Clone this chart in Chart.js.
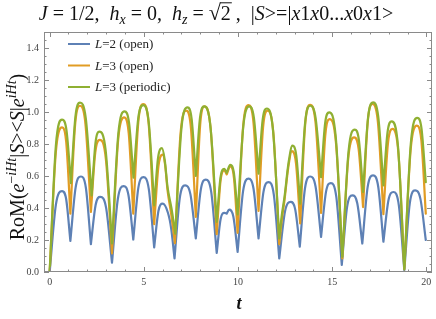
<!DOCTYPE html>
<html>
<head>
<meta charset="utf-8">
<script src="https://cdn.jsdelivr.net/npm/chart.js@4.4.0/dist/chart.umd.min.js"></script>
<style>
  html, body { margin: 0; padding: 0; background: #fff; }
  #wrap { width: 436px; height: 319px; }
</style>
</head>
<body>
<div id="wrap"><canvas id="chart" width="436" height="319"></canvas></div>
<script>
// Values (t, value) -- extrema plus one shoulder per arc
const blueT = [0, 0.33, 0.66, 0.88, 1.10, 1.38, 1.66, 1.925, 2.19, 2.44, 2.69, 3.0, 3.31, 3.62, 3.93, 4.185, 4.44, 4.71, 4.98, 5.265, 5.55, 5.775, 6.0, 6.28, 6.455, 6.63, 6.91, 7.19, 7.475, 7.76, 8.025, 8.29, 8.58, 8.87, 9.075, 9.28, 9.40, 9.53, 9.755, 9.98, 10.27, 10.56, 10.825, 11.09, 11.355, 11.62, 11.905, 12.19, 12.495, 12.8, 13.04, 13.28, 13.555, 13.83, 14.12, 14.41, 14.67, 14.93, 15.22, 15.51, 15.79, 16.07, 16.335, 16.6, 16.885, 17.17, 17.445, 17.72, 17.985, 18.25, 18.54, 18.83, 19.115, 19.4, 19.685, 19.97];
const blueV = [0, 0.42, 0.506, 0.453, 0.195, 0.529, 0.597, 0.525, 0.174, 0.419, 0.469, 0.399, 0.058, 0.456, 0.537, 0.48, 0.203, 0.527, 0.593, 0.518, 0.154, 0.381, 0.427, 0.37, 0.27, 0.085, 0.463, 0.541, 0.485, 0.21, 0.515, 0.577, 0.499, 0.12, 0.33, 0.37, 0.365, 0.39, 0.345, 0.126, 0.505, 0.583, 0.52, 0.21, 0.502, 0.562, 0.481, 0.085, 0.378, 0.438, 0.39, 0.158, 0.522, 0.597, 0.533, 0.22, 0.499, 0.556, 0.469, 0.044, 0.405, 0.479, 0.428, 0.178, 0.532, 0.604, 0.533, 0.189, 0.447, 0.5, 0.417, 0.012, 0.425, 0.51, 0.457, 0.2];

const orangeT = [0, 0.33, 0.66, 0.88, 1.10, 1.355, 1.61, 1.9, 2.19, 2.425, 2.66, 2.985, 3.31, 3.635, 3.96, 4.2, 4.44, 4.705, 4.97, 5.26, 5.55, 5.775, 6.0, 6.13, 6.26, 6.455, 6.65, 6.95, 7.25, 7.505, 7.76, 7.99, 8.22, 8.545, 8.87, 9.07, 9.27, 9.40, 9.59, 9.785, 9.98, 10.27, 10.56, 10.825, 11.09, 11.33, 11.57, 11.88, 12.19, 12.33, 12.47, 12.665, 12.86, 13.08, 13.3, 13.565, 13.83, 14.12, 14.41, 14.635, 14.86, 15.2, 15.54, 15.855, 16.17, 16.405, 16.64, 16.89, 17.14, 17.43, 17.72, 17.96, 18.2, 18.515, 18.83, 19.165, 19.5, 19.735, 19.97];
const orangeV = [0, 0.75, 0.904, 0.812, 0.365, 0.924, 1.039, 0.926, 0.375, 0.749, 0.826, 0.705, 0.116, 0.822, 0.966, 0.864, 0.365, 0.934, 1.05, 0.922, 0.299, 0.66, 0.734, 0.67, 0.51, 0.36, 0.18, 0.867, 1.008, 0.895, 0.344, 0.918, 1.035, 0.899, 0.236, 0.567, 0.635, 0.61, 0.66, 0.589, 0.245, 0.907, 1.043, 0.931, 0.382, 0.902, 1.008, 0.866, 0.174, 0.33, 0.45, 0.65, 0.755, 0.678, 0.303, 0.919, 1.045, 0.93, 0.369, 0.856, 0.956, 0.808, 0.085, 0.713, 0.842, 0.768, 0.406, 0.941, 1.05, 0.933, 0.361, 0.803, 0.894, 0.745, 0.017, 0.762, 0.915, 0.822, 0.365];

const greenT = [0, 0.33, 0.66, 0.895, 1.13, 1.37, 1.61, 1.92, 2.23, 2.435, 2.64, 2.975, 3.31, 3.645, 3.98, 4.215, 4.45, 4.71, 4.97, 5.26, 5.55, 5.755, 5.96, 6.11, 6.26, 6.465, 6.67, 6.995, 7.32, 7.54, 7.76, 7.98, 8.2, 8.535, 8.87, 9.07, 9.27, 9.40, 9.59, 9.785, 9.98, 10.29, 10.6, 10.845, 11.09, 11.31, 11.53, 11.86, 12.19, 12.33, 12.47, 12.68, 12.89, 13.095, 13.3, 13.565, 13.83, 14.12, 14.41, 14.625, 14.84, 15.19, 15.54, 15.87, 16.2, 16.42, 16.64, 16.905, 17.17, 17.445, 17.72, 17.94, 18.16, 18.495, 18.83, 19.175, 19.52, 19.745, 19.97];
const greenV = [0, 0.79, 0.952, 0.885, 0.556, 0.973, 1.058, 0.96, 0.479, 0.809, 0.877, 0.758, 0.178, 0.864, 1.004, 0.933, 0.589, 0.966, 1.043, 0.937, 0.417, 0.713, 0.774, 0.70, 0.53, 0.40, 0.24, 0.895, 1.029, 0.956, 0.6, 0.961, 1.035, 0.912, 0.313, 0.589, 0.645, 0.62, 0.67, 0.617, 0.36, 0.92, 1.035, 0.963, 0.614, 0.953, 1.022, 0.884, 0.21, 0.36, 0.47, 0.68, 0.79, 0.728, 0.427, 0.935, 1.039, 0.963, 0.593, 0.929, 0.998, 0.844, 0.095, 0.755, 0.89, 0.824, 0.5, 0.965, 1.06, 0.972, 0.541, 0.874, 0.942, 0.785, 0.017, 0.802, 0.963, 0.895, 0.562];

const xTickLabels = [0, 5, 10, 15, 20];
const yTickLabels = [0, 0.2, 0.4, 0.6, 0.8, 1.0, 1.2, 1.4];
const seriesNames = ['L=2 (open)', 'L=3 (open)', 'L=3 (periodic)'];

const COLORS = ['#5e81b5', '#e19c24', '#8fb032'];
const SERIF = "'Liberation Serif', 'Times New Roman', serif";

// Break the line at each local minimum so the dips stay sharp cusps
function buildPoints(ts, vs) {
  const pts = [];
  for (let i = 0; i < ts.length; i++) {
    pts.push({ x: ts[i], y: vs[i] });
    if (i > 0 && i < ts.length - 1 && vs[i] < vs[i - 1] && vs[i] < vs[i + 1]) {
      pts.push({ x: ts[i], y: null });
      pts.push({ x: ts[i], y: vs[i] });
    }
  }
  return pts;
}

// Draws a list of runs {t, i, sub, sup, over, scale} as one line of text
function runFont(r, size) {
  let s = size * (r.scale || 1);
  if (r.sub || r.sup) s *= 0.7;
  return (r.i ? 'italic ' : '') + (r.b ? 'bold ' : '') + s + 'px ' + SERIF;
}

function drawRuns(ctx, runs, cx, baseline, size) {
  let total = 0;
  runs.forEach(r => {
    ctx.font = runFont(r, size);
    r.w = ctx.measureText(r.t).width;
    total += r.w;
  });
  let x = cx - total / 2;
  ctx.textAlign = 'left';
  ctx.textBaseline = 'alphabetic';
  runs.forEach(r => {
    ctx.font = runFont(r, size);
    let y = baseline;
    if (r.sub) y += size * 0.22;
    if (r.sup) y -= size * 0.42;
    ctx.fillText(r.t, x, y);
    if (r.over) {
      ctx.save();
      ctx.lineWidth = 1;
      ctx.beginPath();
      ctx.moveTo(x - 1, baseline - size * 0.86);
      ctx.lineTo(x + r.w + 1, baseline - size * 0.86);
      ctx.strokeStyle = ctx.fillStyle;
      ctx.stroke();
      ctx.restore();
    }
    x += r.w;
  });
}

const titleRuns = [
  { t: 'J', i: true }, { t: ' = 1/2,  ' },
  { t: 'h', i: true }, { t: 'x', i: true, sub: true }, { t: ' = 0,  ' },
  { t: 'h', i: true }, { t: 'z', i: true, sub: true }, { t: ' = ' },
  { t: '\u221A', scale: 1.1 }, { t: '2', over: true }, { t: ' ,  |' },
  { t: 'S', i: true }, { t: '>=|' },
  { t: 'x', i: true }, { t: '1' }, { t: 'x', i: true }, { t: '0...' },
  { t: 'x', i: true }, { t: '0' }, { t: 'x', i: true }, { t: '1>' }
];

const yLabelRuns = [
  { t: 'RoM(' }, { t: 'e', i: true }, { t: '\u2212', sup: true }, { t: 'iHt', i: true, sup: true },
  { t: '|' }, { t: 'S', i: true }, { t: '><' }, { t: 'S', i: true }, { t: '|' },
  { t: 'e', i: true }, { t: 'iHt', i: true, sup: true }, { t: ')' }
];

const framePlugin = {
  id: 'frame',
  afterDraw(chart) {
    const { ctx, chartArea: a, scales } = chart;
    const xs = scales.x, ys = scales.y;
    ctx.save();
    ctx.strokeStyle = '#8a8a8a';
    ctx.lineWidth = 1;
    ctx.strokeRect(Math.round(a.left) + 0.5, Math.round(a.top) + 0.5,
      Math.round(a.right - a.left) - 1, Math.round(a.bottom - a.top) - 1);

    ctx.beginPath();
    for (let v = 0; v <= 20; v++) {
      const px = Math.round(xs.getPixelForValue(v)) + 0.5;
      const len = v % 5 === 0 ? 5 : 2.5;
      ctx.moveTo(px, a.bottom); ctx.lineTo(px, a.bottom - len);
      ctx.moveTo(px, a.top); ctx.lineTo(px, a.top + len);
    }
    for (let k = 0; k <= 29; k++) {
      const py = Math.round(ys.getPixelForValue(k * 0.05)) + 0.5;
      const len = k % 4 === 0 ? 5 : 2.5;
      ctx.moveTo(a.left, py); ctx.lineTo(a.left + len, py);
      ctx.moveTo(a.right, py); ctx.lineTo(a.right - len, py);
    }
    ctx.stroke();

    // legend
    ctx.lineWidth = 2;
    seriesNames.forEach((name, i) => {
      const y = 44 + i * 21.5;
      ctx.strokeStyle = COLORS[i];
      ctx.beginPath();
      ctx.moveTo(68, y); ctx.lineTo(90, y);
      ctx.stroke();
      ctx.fillStyle = '#222';
      ctx.font = 'italic 13px ' + SERIF;
      ctx.textAlign = 'left';
      ctx.textBaseline = 'middle';
      ctx.fillText('L', 95, y + 1);
      const lw = ctx.measureText('L').width;
      ctx.font = '13px ' + SERIF;
      ctx.fillText(name.slice(1), 95 + lw, y + 1);
    });

    // title
    ctx.fillStyle = '#111';
    drawRuns(ctx, titleRuns, 216, 20, 20);

    // axis titles
    ctx.font = 'italic bold 18px ' + SERIF;
    ctx.textAlign = 'center';
    ctx.textBaseline = 'alphabetic';
    ctx.fillText('t', 239, 309);

    ctx.translate(24, 157);
    ctx.rotate(-Math.PI / 2);
    drawRuns(ctx, yLabelRuns, 0, 0, 20);
    ctx.restore();
  }
};

const datasets = [
  { data: buildPoints(blueT, blueV), borderColor: COLORS[0], order: 3 },
  { data: buildPoints(orangeT, orangeV), borderColor: COLORS[1], order: 2 },
  { data: buildPoints(greenT, greenV), borderColor: COLORS[2], order: 1 }
].map(d => Object.assign(d, {
  borderWidth: 2.2,
  pointRadius: 0,
  fill: false,
  spanGaps: false,
  cubicInterpolationMode: 'monotone',
  borderCapStyle: 'round',
  borderJoinStyle: 'round'
}));

new Chart(document.getElementById('chart'), {
  type: 'line',
  data: { datasets },
  options: {
    responsive: false,
    animation: false,
    devicePixelRatio: 1,
    layout: { padding: { top: 32, right: 4, left: 0, bottom: 0 } },
    plugins: { legend: { display: false }, tooltip: { enabled: false } },
    scales: {
      x: {
        type: 'linear',
        min: -0.3,
        max: 20.3,
        grid: { display: false, drawTicks: false },
        border: { display: false },
        afterBuildTicks: s => { s.ticks = xTickLabels.map(v => ({ value: v })); },
        afterFit: s => { s.height = 47; },
        ticks: {
          padding: 4,
          maxRotation: 0,
          color: '#444',
          font: { family: SERIF, size: 10 }
        }
      },
      y: {
        min: 0,
        max: 1.5,
        grid: { display: false, drawTicks: false },
        border: { display: false },
        afterBuildTicks: s => { s.ticks = yTickLabels.map(v => ({ value: v })); },
        afterFit: s => { s.width = 44; },
        ticks: {
          padding: 5,
          color: '#444',
          font: { family: SERIF, size: 10 },
          callback: v => v.toFixed(1)
        }
      }
    }
  },
  plugins: [framePlugin]
});
</script>
</body>
</html>
